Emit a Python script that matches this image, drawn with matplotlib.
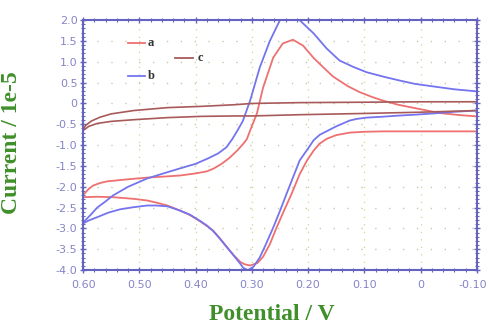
import numpy as np
import matplotlib
matplotlib.use("Agg")
from matplotlib import pyplot as plt
from matplotlib import transforms
from matplotlib.ticker import MultipleLocator, FixedLocator, FixedFormatter

# curve a (red): forward sweep then return sweep, potential in V, current in 1e-5 A
a_fwd_E = [0.60, 0.59, 0.582, 0.57, 0.557, 0.52, 0.486, 0.45, 0.428, 0.40, 0.38, 0.369, 0.355, 0.34,
           0.326, 0.316, 0.309, 0.303, 0.291, 0.28, 0.262, 0.245, 0.227, 0.209, 0.19, 0.17, 0.156,
           0.13, 0.108, 0.085, 0.067, 0.04, 0.007, -0.034, -0.07, -0.10]
a_fwd_I = [-2.20, -2.05, -1.97, -1.91, -1.87, -1.82, -1.78, -1.75, -1.73, -1.68, -1.63, -1.57, -1.46, -1.31,
           -1.13, -0.98, -0.86, -0.65, -0.24, 0.38, 1.10, 1.44, 1.53, 1.39, 1.09, 0.83, 0.65,
           0.42, 0.27, 0.15, 0.07, -0.03, -0.12, -0.23, -0.28, -0.31]
a_ret_E = [-0.10, 0.0, 0.067, 0.10, 0.126, 0.15, 0.167, 0.18, 0.19, 0.202, 0.215, 0.229, 0.243, 0.256,
           0.268, 0.28, 0.29, 0.303, 0.313, 0.321, 0.333, 0.344, 0.356, 0.369, 0.38, 0.392, 0.41,
           0.428, 0.45, 0.47, 0.486, 0.51, 0.547, 0.575, 0.60]
a_ret_I = [-0.67, -0.67, -0.67, -0.68, -0.70, -0.76, -0.85, -0.97, -1.13, -1.37, -1.70, -2.16, -2.58, -2.98,
           -3.38, -3.68, -3.83, -3.89, -3.86, -3.80, -3.63, -3.45, -3.25, -3.05, -2.94, -2.83, -2.68,
           -2.57, -2.45, -2.38, -2.33, -2.29, -2.25, -2.24, -2.25]

# curve b (blue)
b_fwd_E = [0.60, 0.585, 0.575, 0.56, 0.547, 0.52, 0.486, 0.45, 0.428, 0.40, 0.378, 0.36, 0.345, 0.335,
           0.326, 0.316, 0.303, 0.286, 0.268, 0.25, 0.232, 0.215, 0.19, 0.167, 0.144, 0.12, 0.096,
           0.065, 0.037, 0.01, -0.022, -0.06, -0.10]
b_fwd_I = [-2.86, -2.65, -2.50, -2.35, -2.21, -2.00, -1.80, -1.65, -1.56, -1.45, -1.32, -1.20, -1.05, -0.86,
           -0.66, -0.42, 0.07, 0.86, 1.50, 2.00, 2.30, 2.00, 1.68, 1.32, 1.03, 0.88, 0.75,
           0.64, 0.55, 0.47, 0.41, 0.34, 0.29]
b_ret_E = [-0.10, -0.06, -0.022, 0.01, 0.037, 0.07, 0.096, 0.113, 0.126, 0.15, 0.179, 0.19, 0.20, 0.215,
           0.238, 0.25, 0.262, 0.275, 0.286, 0.297, 0.307, 0.315, 0.321, 0.333, 0.344, 0.356, 0.369,
           0.38, 0.392, 0.41, 0.428, 0.45, 0.47, 0.486, 0.51, 0.534, 0.555, 0.575, 0.59, 0.60]
b_ret_I = [-0.17, -0.20, -0.24, -0.27, -0.29, -0.32, -0.34, -0.37, -0.41, -0.55, -0.75, -0.88, -1.08, -1.37,
           -2.16, -2.58, -2.98, -3.38, -3.70, -3.92, -4.00, -3.95, -3.84, -3.64, -3.46, -3.26, -3.06,
           -2.93, -2.82, -2.67, -2.57, -2.47, -2.45, -2.45, -2.49, -2.54, -2.62, -2.73, -2.81, -2.88]

# curve c (brown)
c_up_E = [0.60, 0.595, 0.585, 0.57, 0.55, 0.51, 0.45, 0.39, 0.33, 0.30, 0.215, 0.10, 0.0, -0.10]
c_up_I = [-0.62, -0.52, -0.42, -0.33, -0.25, -0.17, -0.10, -0.07, -0.03, 0.0, 0.02, 0.03, 0.04, 0.04]
c_lo_E = [0.60, 0.59, 0.575, 0.55, 0.51, 0.45, 0.39, 0.33, 0.30, 0.215, 0.10, 0.0, -0.10]
c_lo_I = [-0.65, -0.55, -0.48, -0.43, -0.39, -0.34, -0.31, -0.30, -0.30, -0.27, -0.24, -0.21, -0.17]

xticks = [0.60, 0.50, 0.40, 0.30, 0.20, 0.10, 0.0, -0.10]
xlabels = ["0.60", "0.50", "0.40", "0.30", "0.20", "0.10", "0", "-0.10"]
yticks = [2.0, 1.5, 1.0, 0.5, 0.0, -0.5, -1.0, -1.5, -2.0, -2.5, -3.0, -3.5, -4.0]
ylabels = ["2.0", "1.5", "1.0", "0.5", "0", "-0.5", "-1.0", "-1.5", "-2.0", "-2.5", "-3.0", "-3.5", "-4.0"]

red = "#ee7070"
blue = "#7474ee"
brown = "#a85a5a"
axcol = "#6464c0"
tickcol = "#8585c8"
green = "#3f8f2a"

fig = plt.figure(figsize=(4.89, 3.25), dpi=100)
ax = fig.add_axes([0.170, 0.169, 0.805, 0.769])

ax.plot(a_fwd_E, a_fwd_I, color=red, lw=1.3)
ax.plot(a_ret_E, a_ret_I, color=red, lw=1.3)
ax.plot(b_fwd_E, b_fwd_I, color=blue, lw=1.3)
ax.plot(b_ret_E, b_ret_I, color=blue, lw=1.3)
ax.plot(c_up_E, c_up_I, color=brown, lw=1.2)
ax.plot(c_lo_E, c_lo_I, color=brown, lw=1.2)

ax.set_xlim(0.60, -0.10)
ax.set_ylim(-4.0, 2.0)

ax.xaxis.set_major_locator(FixedLocator(xticks))
ax.xaxis.set_major_formatter(FixedFormatter(xlabels))
ax.yaxis.set_major_locator(FixedLocator(yticks))
ax.yaxis.set_major_formatter(FixedFormatter(ylabels))
ax.xaxis.set_minor_locator(MultipleLocator(0.02))
ax.yaxis.set_minor_locator(MultipleLocator(0.1))

ax.tick_params(which="both", direction="inout", colors=axcol, top=True, right=True,
               labelcolor=tickcol, labelsize=8)
ax.tick_params(which="major", length=4, width=1)
ax.tick_params(which="minor", length=2.5, width=0.8)
ax.tick_params(axis="x", pad=5)
ax.tick_params(axis="y", pad=2)
for s in ax.spines.values():
    s.set_color(axcol)
    s.set_linewidth(1.5)

# keep "-0.10" inside the figure
last = ax.get_xticklabels()[-1]
last.set_transform(last.get_transform() + transforms.ScaledTranslation(-3 / 72, 0, fig.dpi_scale_trans))

for x in xticks[1:-1]:
    ax.axvline(x, color="#c8d890", lw=0.9, ls=(0, (1, 5)), zorder=0)
for y in yticks[1:-1]:
    ax.axhline(y, color="#c8c8b0", lw=1.0, ls=(0, (1, 9)), zorder=0)

# legend drawn by hand
ax.plot([0.114, 0.157], [0.908, 0.908], color=red, lw=1.3, transform=ax.transAxes)
ax.text(0.165, 0.908, "a", transform=ax.transAxes, va="center", fontsize=9,
        fontweight="bold", family="Liberation Serif", color="#333333")
ax.plot([0.114, 0.157], [0.776, 0.776], color=blue, lw=1.3, transform=ax.transAxes)
ax.text(0.165, 0.776, "b", transform=ax.transAxes, va="center", fontsize=9,
        fontweight="bold", family="Liberation Serif", color="#333333")
ax.plot([0.234, 0.28], [0.848, 0.848], color=brown, lw=1.3, transform=ax.transAxes)
ax.text(0.29, 0.848, "c", transform=ax.transAxes, va="center", fontsize=9,
        fontweight="bold", family="Liberation Serif", color="#333333")

ax.set_xlabel("Potential / V", fontsize=17, fontweight="bold", family="Liberation Serif",
              color=green)
ax.set_ylabel("Current / 1e-5", fontsize=17, fontweight="bold", family="Liberation Serif",
              color=green)
ax.xaxis.set_label_coords(0.48, -0.135)
ax.yaxis.set_label_coords(-0.155, 0.51)

fig.savefig("out.png", dpi=100)
